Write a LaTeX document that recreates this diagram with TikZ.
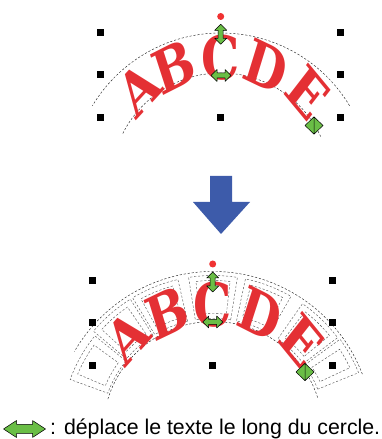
\documentclass[tikz,border=0pt]{standalone}
\usepackage{fontspec}
\setmainfont{Liberation Sans}
\newfontfamily\letterfont{DejaVu Serif}
\definecolor{embred}{RGB}{228,48,52}
\definecolor{hgreen}{RGB}{106,190,70}
\definecolor{bigblue}{RGB}{61,91,170}
\definecolor{dotred}{RGB}{240,50,50}
\begin{document}
\begin{tikzpicture}[x=1pt,y=1pt]
\useasboundingbox (0,0) rectangle (382,439);
\tikzset{
  handle/.style={fill=black, minimum size=7pt, inner sep=0pt, draw=none, rectangle},
  guide/.style={draw=black!85, line width=0.45pt, dash pattern=on 2.2pt off 1.8pt},
  cell/.style={draw=black!70, line width=0.4pt, dash pattern=on 2.2pt off 1.8pt},
  lettr/.style={font=\letterfont\bfseries\fontsize{60}{60}\selectfont, text=embred, inner sep=0pt, xscale=0.8},
  garrow/.style={fill=hgreen, draw=black, line width=0.5pt, line join=round},
  rdot/.style={circle, fill=dotred, minimum size=7pt, inner sep=0pt, draw=none}
}
% ---------- top picture ----------
\coordinate (c1) at (221,256);
\draw[guide] ([shift={(31:150)}]c1) arc[start angle=31, end angle=149, radius=150];
\draw[guide] ([shift={(25:110)}]c1) arc[start angle=25, end angle=154, radius=110];
\foreach \L/\a [count=\i] in {A/131,B/112,C/90,D/69,E/46}{
  \pgfmathsetmacro{\rot}{\a-90}
  \node[lettr, rotate=\rot] (t\i) at ([shift={(\a:125)}]c1) {\L};
}
\node[handle] (s1) at (100.5,406.7) {};
\node[handle] (s2) at (340.5,406.7) {};
\node[handle] (s3) at (100.5,364) {};
\node[handle] (s4) at (340.5,364) {};
\node[handle] (s5) at (100.5,321.3) {};
\node[handle] (s6) at (220.5,321.3) {};
\node[handle] (s7) at (340.5,321.3) {};
\node[rdot] (rd1) at (220.7,422.5) {};
\coordinate (va1) at (220.7,404.7);
\coordinate (ha1) at (221,363.5);
\coordinate (dm1) at (314,313.5);
\draw[garrow,shift={(va1)}] (0,10) -- (6,4) -- (2.5,4) -- (2.5,-4) -- (6,-4) -- (0,-10) -- (-6,-4) -- (-2.5,-4) -- (-2.5,4) -- (-6,4) -- cycle;
\draw[garrow,shift={(ha1)},rotate=90] (0,10) -- (6,4) -- (2.5,4) -- (2.5,-4) -- (6,-4) -- (0,-10) -- (-6,-4) -- (-2.5,-4) -- (-2.5,4) -- (-6,4) -- cycle;
\draw[garrow,shift={(dm1)}] (0,8.7) -- (9,0) -- (0,-8.7) -- (-9,0) -- cycle (0,8.7) -- (0,-8.7);
% ---------- blue arrow ----------
\fill[bigblue] (210,263) -- (232,263) -- (232,237) -- (250,237) -- (221,205) -- (193,237) -- (210,237) -- cycle;
% ---------- bottom picture ----------
\coordinate (c2) at (213,7.5);
\draw[guide] ([shift={(21:160)}]c2) arc[start angle=21, end angle=150, radius=160];
\draw[guide] ([shift={(18:110)}]c2) arc[start angle=18, end angle=163, radius=110];
\foreach \a in {131,112,90,69,46}{
  \draw[cell] ([shift={(\a-9:113)}]c2) arc[start angle=\a-9, end angle=\a+9, radius=113]
     -- ([shift={(\a+9:156)}]c2) arc[start angle=\a+9, end angle=\a-9, radius=156] -- cycle;
  \draw[cell] ([shift={(\a-6.5:118)}]c2) arc[start angle=\a-6.5, end angle=\a+6.5, radius=118]
     -- ([shift={(\a+6.5:151)}]c2) arc[start angle=\a+6.5, end angle=\a-6.5, radius=151] -- cycle;
}
\draw[cell] ([shift={(141:112)}]c2) arc[start angle=141, end angle=160, radius=112]
   -- ([shift={(160:152)}]c2) arc[start angle=160, end angle=141, radius=152] -- cycle;
\draw[cell] ([shift={(144:117)}]c2) arc[start angle=144, end angle=157, radius=117]
   -- ([shift={(157:147)}]c2) arc[start angle=157, end angle=144, radius=147] -- cycle;
\draw[cell] ([shift={(22:113)}]c2) arc[start angle=22, end angle=36, radius=113]
   -- ([shift={(36:157)}]c2) arc[start angle=36, end angle=22, radius=157] -- cycle;
\draw[cell] ([shift={(25:118)}]c2) arc[start angle=25, end angle=33, radius=118]
   -- ([shift={(33:151)}]c2) arc[start angle=33, end angle=25, radius=151] -- cycle;
\foreach \L/\a [count=\i] in {A/132,B/111,C/90,D/68,E/45.5}{
  \pgfmathsetmacro{\rot}{\a-90}
  \node[lettr, rotate=\rot] (b\i) at ([shift={(\a:127)}]c2) {\L};
}
\node[handle] (u1) at (92.3,158.3) {};
\node[handle] (u2) at (332.7,158.3) {};
\node[handle] (u3) at (92.3,116.3) {};
\node[handle] (u4) at (332.7,116.3) {};
\node[handle] (u5) at (92.3,73) {};
\node[handle] (u6) at (212.7,73) {};
\node[handle] (u7) at (332.7,73) {};
\node[rdot] (rd2) at (212.7,175) {};
\coordinate (va2) at (212.7,157);
\coordinate (ha2) at (212.7,117);
\coordinate (dm2) at (305,67);
\draw[garrow,shift={(va2)}] (0,10) -- (6,4) -- (2.5,4) -- (2.5,-4) -- (6,-4) -- (0,-10) -- (-6,-4) -- (-2.5,-4) -- (-2.5,4) -- (-6,4) -- cycle;
\draw[garrow,shift={(ha2)},rotate=90] (0,10) -- (6,4) -- (2.5,4) -- (2.5,-4) -- (6,-4) -- (0,-10) -- (-6,-4) -- (-2.5,-4) -- (-2.5,4) -- (-6,4) -- cycle;
\draw[garrow,shift={(dm2)}] (0,8.7) -- (9,0) -- (0,-8.7) -- (-9,0) -- cycle (0,8.7) -- (0,-8.7);
% ---------- legend ----------
\coordinate (lg) at (24.5,10);
\draw[garrow,shift={(lg)}] (-21,0) -- (-8,8.5) -- (-8,4.5) -- (8,4.5) -- (8,8.5) -- (21,0) -- (8,-8.5) -- (8,-4.5) -- (-8,-4.5) -- (-8,-8.5) -- cycle;
\node[anchor=base west, inner sep=0pt] (leg) at (50,4) {\resizebox{330pt}{!}{\fontsize{21}{21}\selectfont : déplace le texte le long du cercle.}};
\end{tikzpicture}
\end{document}
